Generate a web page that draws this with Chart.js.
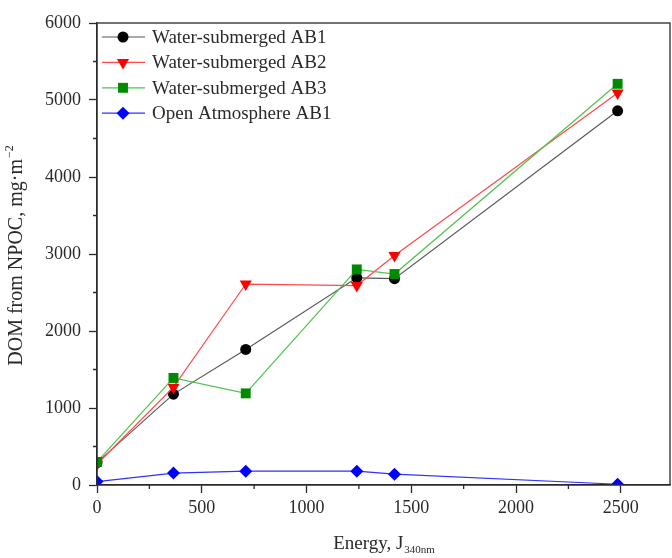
<!DOCTYPE html>
<html>
<head>
<meta charset="utf-8">
<script src="https://cdn.jsdelivr.net/npm/chart.js@4.4.1/dist/chart.umd.min.js"></script>
<style>
    html, body { margin: 0; padding: 0; background: #fff; }
    #wrap { width: 672px; height: 558px; }
</style>
</head>
<body>
<div id="wrap"><canvas id="dom-chart"></canvas></div>
<script>
    "use strict";

    // Energy dose and dissolved organic matter per run
    var energy = [0, 365, 710, 1240, 1420, 2485];
    var waterAB1 = [290, 1180, 1760, 2690, 2680, 4860];
    var waterAB2 = [270, 1270, 2610, 2590, 2980, 5090];
    var waterAB3 = [300, 1390, 1190, 2800, 2740, 5210];
    var openAB1 = [45, 155, 180, 180, 140, 10];

    var seriesNames = ["Water-submerged AB1", "Water-submerged AB2", "Water-submerged AB3", "Open Atmosphere AB1"];
    var xTicks = [0, 500, 1000, 1500, 2000, 2500];
    var yTicks = [0, 1000, 2000, 3000, 4000, 5000, 6000];

    var serif = "'Liberation Serif', 'Times New Roman', serif";
    var ink = "#2a2a2a";

    function points(ys) {
        return energy.map(function (x, i) { return {x: x, y: ys[i]}; });
    }

    function fixedTicks(list) {
        return function (scale) {
            scale.ticks = list.map(function (v) { return {value: v}; });
        };
    }

    // Minor ticks, frame, axis titles and legend
    var decorations = {
        id: "decorations",
        afterDraw: function (chart) {
            var ctx = chart.ctx;
            var area = chart.chartArea;
            var xs = chart.scales.x;
            var ys = chart.scales.y;
            ctx.save();
            ctx.strokeStyle = ink;
            ctx.lineWidth = 1.3;
            ctx.strokeRect(area.left, area.top, area.right - area.left, area.bottom - area.top);

            ctx.beginPath();
            for (var i = 0; i < xTicks.length; i++) {
                var px = xs.getPixelForValue(xTicks[i] + 250);
                if (px < area.right) {
                    ctx.moveTo(px, area.bottom);
                    ctx.lineTo(px, area.bottom + 4);
                }
            }
            for (var j = 0; j < yTicks.length - 1; j++) {
                var py = ys.getPixelForValue(yTicks[j] + 500);
                ctx.moveTo(area.left, py);
                ctx.lineTo(area.left - 4, py);
            }
            ctx.stroke();

            // x title with subscript
            ctx.fillStyle = ink;
            ctx.textBaseline = "alphabetic";
            var main = "Energy, J";
            ctx.font = "11px " + serif;
            var subW = ctx.measureText("340nm").width;
            ctx.font = "19px " + serif;
            var mainW = ctx.measureText(main).width;
            var startX = (area.left + area.right) / 2 - (mainW + subW) / 2;
            ctx.fillText(main, startX, 549);
            ctx.font = "11px " + serif;
            ctx.fillText("340nm", startX + mainW + 1, 553);

            // y title with superscript
            ctx.translate(22, (area.top + area.bottom) / 2 + 2);
            ctx.rotate(-Math.PI / 2);
            var yMain = "DOM from NPOC, mg\u00b7m";
            ctx.font = "12px " + serif;
            var supW = ctx.measureText("\u22122").width;
            ctx.font = "20px " + serif;
            var yMainW = ctx.measureText(yMain).width;
            var sx = -(yMainW + supW) / 2;
            ctx.fillText(yMain, sx, 0);
            ctx.font = "12px " + serif;
            ctx.fillText("\u22122", sx + yMainW + 1, -9);
            ctx.restore();

            // legend
            ctx.save();
            chart.data.datasets.forEach(function (ds, k) {
                var ly = 37 + k * 25.4;
                ctx.strokeStyle = ds.borderColor;
                ctx.lineWidth = ds.borderWidth;
                ctx.beginPath();
                ctx.moveTo(area.left + 5, ly);
                ctx.lineTo(area.left + 48, ly);
                ctx.stroke();
                ctx.fillStyle = ds.pointBackgroundColor;
                Chart.helpers.drawPoint(ctx, {
                    pointStyle: ds.pointStyle,
                    rotation: ds.pointRotation || 0,
                    radius: ds.pointRadius,
                    borderWidth: 0
                }, area.left + 26, ly);
                ctx.fillStyle = ink;
                ctx.font = "19px " + serif;
                ctx.textBaseline = "middle";
                ctx.fillText(seriesNames[k], area.left + 55, ly + 1);
            });
            ctx.restore();
        }
    };

    var ctx1 = document.getElementById("dom-chart").getContext("2d");
    var myChart = new Chart(ctx1, {
        type: "line",
        data: {
            datasets: [{
                label: seriesNames[0],
                data: points(waterAB1),
                borderColor: "#555555",
                borderWidth: 1.1,
                pointBackgroundColor: "#000000",
                pointBorderWidth: 0,
                pointStyle: "circle",
                pointRadius: 5.5,
                order: 4
            }, {
                label: seriesNames[1],
                data: points(waterAB2),
                borderColor: "#ff4a4a",
                borderWidth: 1.2,
                pointBackgroundColor: "#ff0000",
                pointBorderWidth: 0,
                pointStyle: "triangle",
                pointRotation: 180,
                pointRadius: 7,
                order: 3
            }, {
                label: seriesNames[2],
                data: points(waterAB3),
                borderColor: "#4cc44c",
                borderWidth: 1.2,
                pointBackgroundColor: "#008a00",
                pointBorderWidth: 0,
                pointStyle: "rect",
                pointRadius: 7,
                order: 2
            }, {
                label: seriesNames[3],
                data: points(openAB1),
                borderColor: "#3030ff",
                borderWidth: 1.2,
                pointBackgroundColor: "#0000ff",
                pointBorderWidth: 0,
                pointStyle: "rectRot",
                pointRadius: 6.5,
                order: 1
            }]
        },
        options: {
            responsive: true,
            maintainAspectRatio: false,
            animation: false,
            clip: 0,
            layout: {autoPadding: false, padding: {top: 23, right: 2, left: 0, bottom: 0}},
            plugins: {
                legend: {display: false},
                tooltip: {enabled: false}
            },
            elements: {line: {tension: 0}},
            scales: {
                x: {
                    type: "linear",
                    min: 0,
                    max: 2735,
                    afterBuildTicks: fixedTicks(xTicks),
                    afterFit: function (scale) {
                        scale.height = 73;
                        scale.paddingRight = 0;
                    },
                    border: {color: ink, width: 1.3},
                    grid: {drawOnChartArea: false, tickLength: 8, tickColor: ink, tickWidth: 1.3},
                    ticks: {
                        padding: 4,
                        color: ink,
                        font: {family: serif, size: 18},
                        callback: function (v) { return String(v); }
                    }
                },
                y: {
                    min: 0,
                    max: 6000,
                    afterBuildTicks: fixedTicks(yTicks),
                    afterFit: function (scale) {
                        scale.width = 97;
                        scale.paddingTop = 0;
                        scale.paddingBottom = 0;
                    },
                    border: {color: ink, width: 1.3},
                    grid: {drawOnChartArea: false, tickLength: 8, tickColor: ink, tickWidth: 1.3},
                    ticks: {
                        padding: 8,
                        color: ink,
                        font: {family: serif, size: 18},
                        callback: function (v) { return String(v); }
                    }
                }
            }
        },
        plugins: [decorations]
    });
</script>
</body>
</html>
